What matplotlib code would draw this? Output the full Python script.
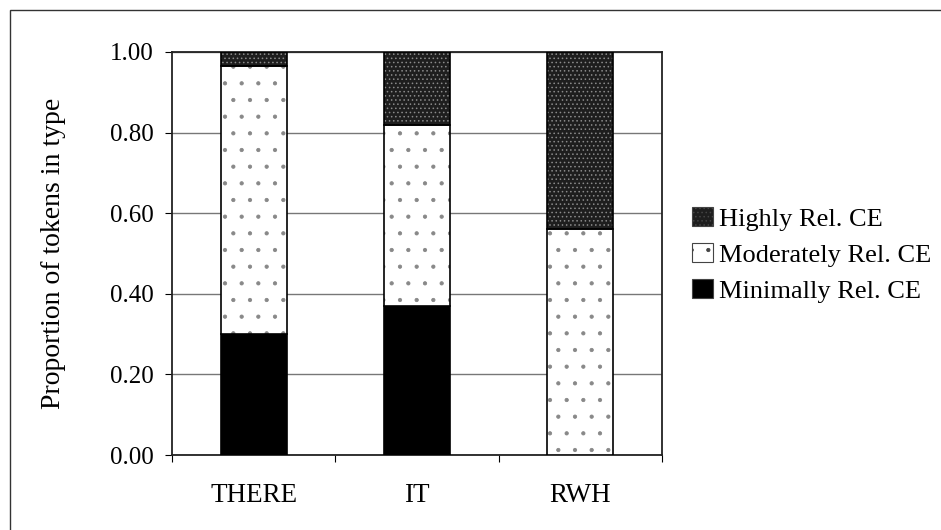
import numpy as np
import matplotlib
matplotlib.use("Agg")
import matplotlib.pyplot as plt
from matplotlib.patches import Rectangle

plt.rcParams['font.family'] = ['Liberation Serif', 'DejaVu Serif']
plt.rcParams['hatch.linewidth'] = 0.6

# data
kategori = ['THERE', 'IT', 'RWH']
minimally = [0.30, 0.37, 0.00]
moderately = [0.665, 0.45, 0.56]
highly = [0.035, 0.18, 0.44]

x = np.arange(len(kategori))
lebar = 0.405
ukuran = 18

fig = plt.figure(figsize=(9.41, 5.30), dpi=100)
ax = fig.add_axes([0.1828, 0.1415, 0.5207, 0.7604])

bawah_mod = np.array(minimally)
bawah_high = bawah_mod + np.array(moderately)

b1 = ax.bar(x, minimally, lebar, color='black', edgecolor='black', linewidth=1.2,
            label='Minimally Rel. CE', zorder=3)
# bagian tengah: putih dengan titik jarang
b2 = ax.bar(x, moderately, lebar, bottom=bawah_mod, color='white', edgecolor='#888888',
            linewidth=0, hatch='.', label='Moderately Rel. CE', zorder=3)
ax.bar(x, moderately, lebar, bottom=bawah_mod, color='none', edgecolor='black',
       linewidth=1.2, zorder=5)
b3 = ax.bar(x, highly, lebar, bottom=bawah_high, color='#1e1e1e', edgecolor='#8a8a8a',
            linewidth=0, hatch='....', label='Highly Rel. CE', zorder=3)
ax.bar(x, highly, lebar, bottom=bawah_high, color='none', edgecolor='black',
       linewidth=1.2, zorder=5)

ax.set_xlim(-0.5, 2.5)
ax.set_ylim(0, 1.0)
ax.set_yticks(np.arange(0, 1.01, 0.2))
ax.set_yticklabels(['%.2f' % v for v in np.arange(0, 1.01, 0.2)], fontsize=ukuran)
ax.set_xticks([-0.5, 0.5, 1.5, 2.5], minor=False)
ax.set_xticklabels([])
ax.set_xticks(x, minor=True)
ax.set_xticklabels(kategori, minor=True, fontsize=19.5)
ax.tick_params(axis='x', which='minor', length=0, pad=20)
ax.tick_params(axis='x', which='major', length=5, direction='out')
ax.tick_params(axis='y', length=5, direction='out', pad=8)
ax.yaxis.grid(True, color='#777777', linewidth=1.0, zorder=0)
ax.set_axisbelow(True)
for s in ax.spines.values():
    s.set_linewidth(1.3)
    s.set_color('#222222')
ax.set_ylabel('Proportion of tokens in type', fontsize=20, labelpad=32)

# legend, urutan terbalik seperti gambar
h = [b3, b2, b1]
leg = fig.legend(h, [b.get_label() for b in h], loc='center left',
                 bbox_to_anchor=(0.7245, 0.519), frameon=False, fontsize=19,
                 handlelength=0.8, handleheight=0.75, handletextpad=0.2,
                 labelspacing=0.46, borderaxespad=0)
for p in leg.get_patches():
    p.set_linewidth(0.8)
    p.set_edgecolor('#444444')

# bingkai luar chart
fig.patches.append(Rectangle((10 / 941, -0.1), 2, 1.1 - 10 / 530, transform=fig.transFigure,
                             fill=False, edgecolor='#333333', linewidth=1.0))

fig.savefig('out.png', dpi=100)
